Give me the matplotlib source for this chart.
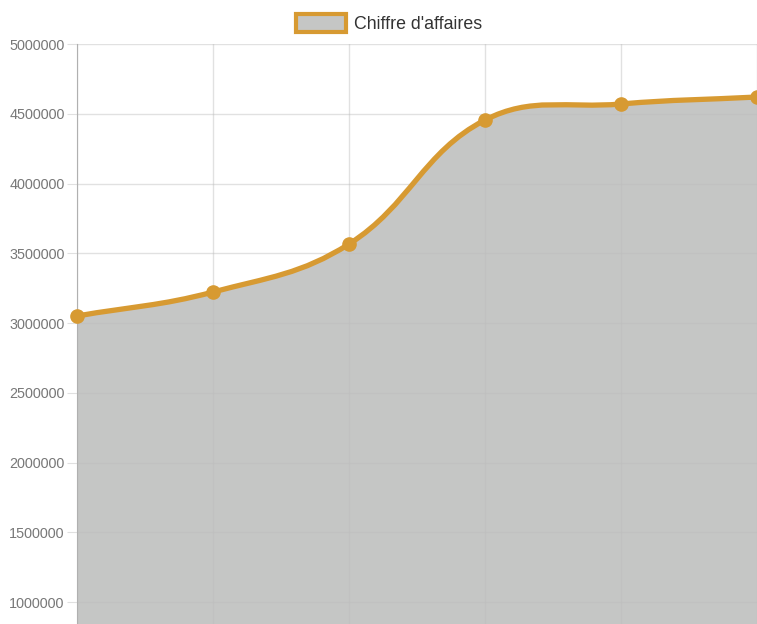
import numpy as np
import matplotlib.pyplot as plt
from matplotlib.path import Path
from matplotlib.patches import PathPatch, Patch

plt.rcParams['font.family'] = ['Liberation Sans', 'DejaVu Sans']

# données
labels = ['1', '2', '3', '4', '5', '6']
ca = [3050000, 3222000, 3566000, 4455000, 4570000, 4620000]
yticks = [1000000, 1500000, 2000000, 2500000, 3000000, 3500000, 4000000, 4500000, 5000000]

gold = '#d79a32'
grey_fill = '#c5c6c5'
grid_col = '#e0e0e0'

W, H = 757, 624
fig = plt.figure(figsize=(W / 100, H / 100), dpi=100)
# l'axe dépasse du cadre en bas et à droite (image recadrée)
left, top, bottom_px = 77, 44, 741.5
ax = fig.add_axes([left / W, 1 - bottom_px / H, (757 - left) / W, (bottom_px - top) / H])
ax.set_xlim(0, 5)
ax.set_ylim(0, 5000000)

x = np.arange(len(ca))
y = np.array(ca, dtype=float)

# courbe de Bézier façon Chart.js (tension 0.4), calculée en pixels
pts = ax.transData.transform(np.column_stack([x, y]))
t = 0.4
cps = []
for i in range(len(pts)):
    prev = pts[max(i - 1, 0)]
    cur = pts[i]
    nxt = pts[min(i + 1, len(pts) - 1)]
    d01 = np.hypot(*(cur - prev))
    d12 = np.hypot(*(nxt - cur))
    s01 = d01 / (d01 + d12) if d01 + d12 else 0
    s12 = d12 / (d01 + d12) if d01 + d12 else 0
    cp_prev = cur - t * s01 * (nxt - prev)
    cp_next = cur + t * s12 * (nxt - prev)
    cps.append((cp_prev, cp_next))

verts = [pts[0]]
codes = [Path.MOVETO]
for i in range(1, len(pts)):
    verts += [cps[i - 1][1], cps[i][0], pts[i]]
    codes += [Path.CURVE4] * 3
inv = ax.transData.inverted()
verts_d = inv.transform(np.array(verts))

line_path = Path(verts_d, codes)
fill_verts = np.vstack([verts_d, [[x[-1], 0], [x[0], 0], verts_d[0]]])
fill_codes = codes + [Path.LINETO, Path.LINETO, Path.CLOSEPOLY]
ax.add_patch(PathPatch(Path(fill_verts, fill_codes), facecolor=grey_fill, edgecolor='none', zorder=1))
ax.add_patch(PathPatch(line_path, facecolor='none', edgecolor=gold, lw=3.8, zorder=3,
                       capstyle='round', joinstyle='round'))
ax.plot(x, y, 'o', color=gold, ms=9.5, zorder=4, clip_on=False)

# grille et axes
ax.set_yticks(yticks)
ax.set_yticklabels([str(v) for v in yticks])
ax.set_xticks(x)
ax.set_xticklabels([])
ax.grid(True, color='#bdbdbd', lw=1, zorder=2, alpha=0.45)
for sp in ['top', 'right', 'bottom']:
    ax.spines[sp].set_visible(False)
ax.spines['left'].set_color('#b0b0b0')
ax.tick_params(axis='y', length=7, color=grid_col, labelsize=10.4, labelcolor='#787878', pad=2)
ax.tick_params(axis='x', length=0)
ax.set_facecolor('white')

fig.legend(handles=[Patch(facecolor=grey_fill, edgecolor=gold, lw=3)], labels=["Chiffre d'affaires"],
           loc='upper center', bbox_to_anchor=(389 / W, 1 + 2 / H), frameon=False,
           fontsize=12.8, handlelength=2.8, handleheight=1.2, handletextpad=0.45,
           labelcolor='#333333')

fig.savefig('out.png', dpi=100)
